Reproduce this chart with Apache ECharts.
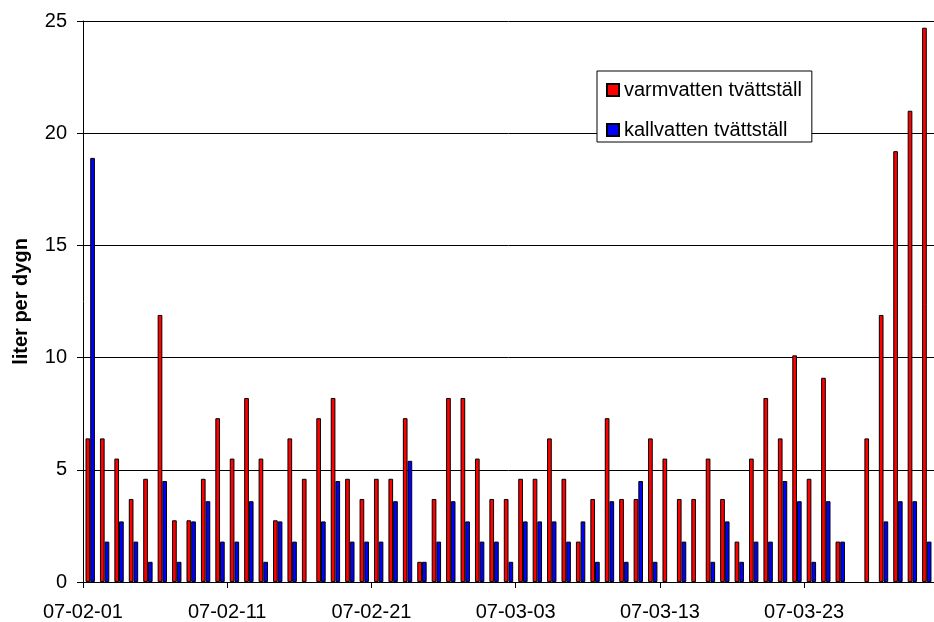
<!DOCTYPE html>
<html>
<head>
<meta charset="utf-8">
<script src="https://cdn.jsdelivr.net/npm/echarts@6/dist/echarts.min.js"></script>
<style>
  html, body { margin: 0; padding: 0; background: #fff; overflow: hidden; }
  #chart { width: 934px; height: 622px; }
</style>
</head>
<body>
<div id="chart"></div>
<script>
  // datum (en stapelgrupp per dygn)
  var dates = [
    '07-02-01', '07-02-02', '07-02-03', '07-02-04', '07-02-05', '07-02-06', '07-02-07', '07-02-08', '07-02-09', '07-02-10',
    '07-02-11', '07-02-12', '07-02-13', '07-02-14', '07-02-15', '07-02-16', '07-02-17', '07-02-18', '07-02-19', '07-02-20',
    '07-02-21', '07-02-22', '07-02-23', '07-02-24', '07-02-25', '07-02-26', '07-02-27', '07-02-28', '07-03-01', '07-03-02',
    '07-03-03', '07-03-04', '07-03-05', '07-03-06', '07-03-07', '07-03-08', '07-03-09', '07-03-10', '07-03-11', '07-03-12',
    '07-03-13', '07-03-14', '07-03-15', '07-03-16', '07-03-17', '07-03-18', '07-03-19', '07-03-20', '07-03-21', '07-03-22',
    '07-03-23', '07-03-24', '07-03-25', '07-03-26', '07-03-27', '07-03-28', '07-03-29', '07-03-30', '07-03-31'
  ];

  // varmvatten tvättställ (liter per dygn), null = inget värde
  var warm = [
    6.4, 6.4, 5.5, 3.7, 4.6, 11.9, 2.75, 2.75, 4.6, 7.3,
    5.5, 8.2, 5.5, 2.75, 6.4, 4.6, 7.3, 8.2, 4.6, 3.7,
    4.6, 4.6, 7.3, 0.9, 3.7, 8.2, 8.2, 5.5, 3.7, 3.7,
    4.6, 4.6, 6.4, 4.6, 1.8, 3.7, 7.3, 3.7, 3.7, 6.4,
    5.5, 3.7, 3.7, 5.5, 3.7, 1.8, 5.5, 8.2, 6.4, 10.1,
    4.6, 9.1, 1.8, null, 6.4, 11.9, 19.2, 21.0, 24.7
  ];

  // kallvatten tvättställ (liter per dygn), null = inget värde
  var cold = [
    18.9, 1.8, 2.7, 1.8, 0.9, 4.5, 0.9, 2.7, 3.6, 1.8,
    1.8, 3.6, 0.9, 2.7, 1.8, null, 2.7, 4.5, 1.8, 1.8,
    1.8, 3.6, 5.4, 0.9, 1.8, 3.6, 2.7, 1.8, 1.8, 0.9,
    2.7, 2.7, 2.7, 1.8, 2.7, 0.9, 3.6, 0.9, 4.5, 0.9,
    null, 1.8, null, 0.9, 2.7, 0.9, 1.8, 1.8, 4.5, 3.6,
    0.9, 3.6, 1.8, null, null, 2.7, 3.6, 3.6, 1.8
  ];

  var yTicks = [0, 5, 10, 15, 20, 25];

  var font = "'Liberation Sans', Arial, sans-serif";
  var chart = echarts.init(document.getElementById('chart'));

  // etikett och streck var tionde dag
  function everyTenth(i) {
    return i % 10 === 0;
  }

  var option = {
    animation: false,
    backgroundColor: '#fff',
    textStyle: { fontFamily: font, color: '#000' },
    grid: { left: 83, top: 21, width: 854, bottom: 38 },
    legend: {
      orient: 'vertical',
      left: 597,
      top: 71,
      padding: [9, 10, 2, 9],
      itemGap: 20,
      itemWidth: 12,
      itemHeight: 12,
      itemTextGap: 5,
      icon: 'rect',
      backgroundColor: '#fff',
      borderColor: '#000',
      borderWidth: 1,
      textStyle: { fontFamily: font, fontSize: 20, lineHeight: 20, color: '#000' },
      data: ['varmvatten tvättställ', 'kallvatten tvättställ']
    },
    xAxis: {
      type: 'category',
      data: dates,
      boundaryGap: true,
      axisLine: { lineStyle: { color: '#000', width: 1 } },
      axisTick: { show: true, alignWithLabel: false, interval: everyTenth, length: 6, lineStyle: { color: '#000', width: 1 } },
      axisLabel: {
        interval: everyTenth,
        margin: 20,
        fontFamily: font,
        fontSize: 20,
        color: '#000',
        // flytta etiketten till vänstra kanten av dygnet
        padding: [0, 14.5, 0, 0]
      },
      splitLine: { show: false }
    },
    yAxis: {
      type: 'value',
      min: yTicks[0],
      max: yTicks[yTicks.length - 1],
      interval: 5,
      name: 'liter per dygn',
      nameLocation: 'middle',
      nameRotate: 90,
      nameGap: 52,
      nameTextStyle: { fontFamily: font, fontSize: 20, fontWeight: 'bold', color: '#000' },
      axisLine: { show: true, lineStyle: { color: '#000', width: 1 } },
      axisTick: { show: true, length: 6, lineStyle: { color: '#000' } },
      axisLabel: { margin: 16, fontFamily: font, fontSize: 20, color: '#000' },
      splitLine: { show: true, lineStyle: { color: '#000', width: 1 } }
    },
    series: [
      {
        name: 'varmvatten tvättställ',
        type: 'bar',
        data: warm,
        barGap: '0%',
        barCategoryGap: '35%',
        itemStyle: { color: '#ff0000', borderColor: '#000', borderWidth: 1 }
      },
      {
        name: 'kallvatten tvättställ',
        type: 'bar',
        data: cold,
        barGap: '0%',
        barCategoryGap: '35%',
        itemStyle: { color: '#0000ff', borderColor: '#000', borderWidth: 1 }
      }
    ]
  };

  chart.setOption(option);
</script>
</body>
</html>
